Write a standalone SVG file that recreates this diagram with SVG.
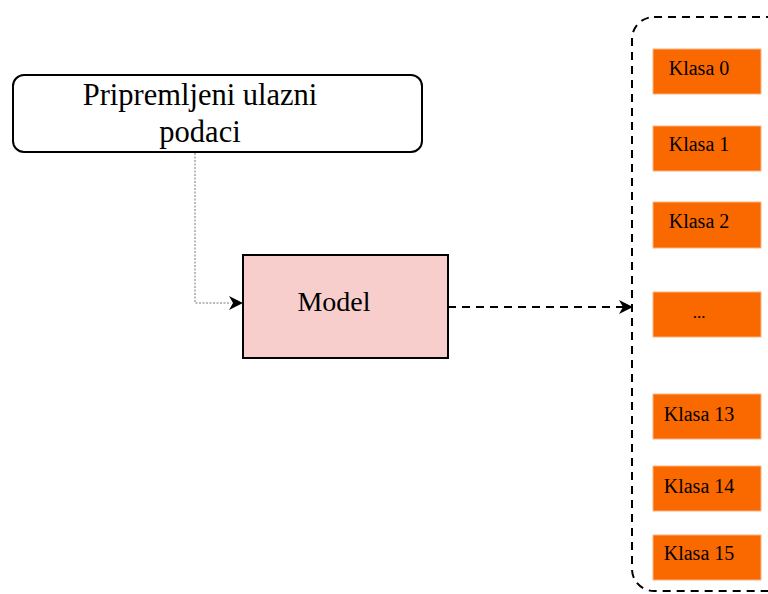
<svg xmlns="http://www.w3.org/2000/svg" width="768" height="594" viewBox="0 0 768 594">
<defs>
<style>
text{font-family:"Liberation Serif","Times New Roman",serif;fill:#000}
.cls rect{fill:#fa6800;stroke:#ffb380;stroke-width:1}
.cls text{font-family:"Liberation Serif","Times New Roman",serif;font-size:20px;text-anchor:middle}
</style>
</defs>
<rect width="768" height="594" fill="#fff"/>
<g id="input">
<rect x="13" y="75" width="409" height="77" rx="11" fill="#fff" stroke="#000" stroke-width="2"/>
<text x="200" y="105" font-size="30.5" text-anchor="middle">Pripremljeni ulazni</text>
<text x="200" y="142" font-size="30.5" text-anchor="middle">podaci</text>
</g>
<g id="model">
<rect x="243" y="255" width="205" height="103" fill="#f8cecc" stroke="#000" stroke-width="2"/>
<text x="334" y="311" font-size="28" text-anchor="middle">Model</text>
</g>
<g id="classes">
<rect x="632" y="17" width="180" height="574" rx="22" fill="none" stroke="#000" stroke-width="2" stroke-dasharray="8 6"/>
<g id="k0" class="cls"><rect x="653" y="49" width="108" height="45"/><text x="699" y="75">Klasa 0</text></g>
<g id="k1" class="cls"><rect x="653" y="126" width="108" height="45"/><text x="699" y="151">Klasa 1</text></g>
<g id="k2" class="cls"><rect x="653" y="202" width="108" height="46"/><text x="699" y="228">Klasa 2</text></g>
<g id="kdots" class="cls"><rect x="653" y="292" width="108" height="45"/><text x="699" y="318" style="font-size:17px">...</text></g>
<g id="k13" class="cls"><rect x="653" y="394" width="108" height="45"/><text x="699" y="421">Klasa 13</text></g>
<g id="k14" class="cls"><rect x="653" y="466" width="108" height="45"/><text x="699" y="493">Klasa 14</text></g>
<g id="k15" class="cls"><rect x="653" y="535" width="108" height="45"/><text x="699" y="560">Klasa 15</text></g>
</g>
<g id="connectors">
<path d="M195,153 V303 H231" fill="none" stroke="#777" stroke-width="1" stroke-dasharray="2 1.5"/>
<path d="M229,296 L243,303 L229,310 L233,303 Z" fill="#000"/>
<path d="M448,307 H624" fill="none" stroke="#000" stroke-width="2" stroke-dasharray="8 6"/>
<path d="M619,300 L633,307 L619,314 L623,307 Z" fill="#000"/>
</g>
</svg>
